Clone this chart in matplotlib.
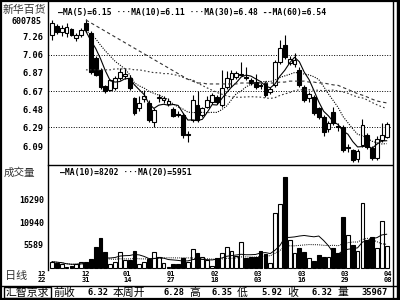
import numpy as np
import pandas as pd
import matplotlib
matplotlib.use("Agg")
import matplotlib.pyplot as plt
from matplotlib.patches import Rectangle
from matplotlib.lines import Line2D
import matplotlib.transforms as mtrans

# ---------------- data ----------------
opens = [7.27, 7.37, 7.30, 7.29, 7.33, 7.24, 7.27, 7.40, 7.29, 7.03,
         6.90, 6.73, 6.69, 6.71, 6.81, 6.83, 6.81, 6.60, 6.49, 6.59,
         6.55, 6.35, 6.60, 6.58, 6.54, 6.48, 6.43, 6.42, 6.21, 6.37,
         6.53, 6.42, 6.51, 6.56, 6.61, 6.53, 6.72, 6.80, 6.82, 6.85,
         6.82, 6.79, 6.77, 6.74, 6.76, 6.66, 6.74, 6.98, 7.16, 6.97,
         6.96, 6.90, 6.72, 6.60, 6.61, 6.49, 6.40, 6.27, 6.45, 6.30,
         6.29, 6.07, 6.05, 5.95, 6.10, 6.21, 6.07, 5.96, 6.15, 6.19]
highs = [7.43, 7.39, 7.38, 7.40, 7.34, 7.29, 7.34, 7.44, 7.31, 7.05,
         6.92, 6.74, 6.80, 6.83, 6.92, 6.92, 6.84, 6.61, 6.62, 6.69,
         6.58, 6.49, 6.64, 6.62, 6.60, 6.50, 6.46, 6.44, 6.25, 6.63,
         6.67, 6.51, 6.62, 6.65, 6.63, 6.90, 6.89, 6.90, 6.89, 6.98,
         6.93, 6.81, 6.86, 6.76, 6.78, 6.72, 7.00, 7.22, 7.27, 7.05,
         7.08, 6.93, 6.74, 6.66, 6.63, 6.51, 6.42, 6.36, 6.50, 6.33,
         6.31, 6.11, 6.06, 6.06, 6.38, 6.23, 6.09, 6.20, 6.34, 6.35]
lows = [7.22, 7.28, 7.26, 7.25, 7.26, 7.21, 7.25, 7.30, 6.86, 6.83,
        6.70, 6.65, 6.67, 6.69, 6.79, 6.80, 6.69, 6.42, 6.46, 6.56,
        6.35, 6.29, 6.56, 6.55, 6.52, 6.40, 6.40, 6.18, 6.13, 6.35,
        6.35, 6.40, 6.49, 6.54, 6.54, 6.50, 6.70, 6.72, 6.80, 6.83,
        6.79, 6.74, 6.70, 6.70, 6.61, 6.64, 6.72, 6.96, 7.02, 6.95,
        6.93, 6.72, 6.56, 6.56, 6.42, 6.38, 6.20, 6.24, 6.31, 6.25,
        6.03, 6.03, 5.92, 5.92, 6.08, 6.06, 5.94, 5.94, 6.13, 6.17]
closes = [7.40, 7.30, 7.34, 7.36, 7.27, 7.27, 7.32, 7.32, 6.88, 6.85,
          6.72, 6.68, 6.79, 6.81, 6.88, 6.86, 6.71, 6.44, 6.55, 6.62,
          6.37, 6.47, 6.61, 6.60, 6.57, 6.41, 6.42, 6.21, 6.22, 6.58,
          6.37, 6.49, 6.58, 6.63, 6.56, 6.71, 6.81, 6.87, 6.87, 6.86,
          6.81, 6.76, 6.72, 6.73, 6.63, 6.70, 6.98, 7.13, 7.04, 7.02,
          7.00, 6.74, 6.58, 6.64, 6.44, 6.40, 6.24, 6.33, 6.33, 6.29,
          6.05, 6.08, 5.94, 6.04, 6.31, 6.08, 5.96, 6.16, 6.21, 6.32]
volumes = [1620, 1380, 1140, 360, 530, 1070, 1620, 1620, 2260, 5180,
           7250, 4000, 1070, 1620, 3850, 2020, 2020, 4160, 1070, 1620,
           2180, 3850, 2700, 1200, 430, 1070, 1000, 2500, 1600, 4640,
           3690, 2730, 2020, 600, 2500, 3690, 5110, 4160, 2970, 6370,
           2570, 2800, 2660, 4160, 3370, 1380, 13200, 15340, 21760, 6780,
           3680, 4870, 4000, 2500, 1860, 3210, 2660, 2660, 4870, 3690,
           12320, 7970, 5590, 4240, 15570, 6780, 7490, 4870, 11300, 5350]

# MA30 / MA60 before the window has enough history
ma30_early = [6.90, 6.90, 6.90, 6.90, 6.90, 6.90, 6.91, 6.91, 6.91, 6.91, 6.90,
              6.90, 6.89, 6.88, 6.87, 6.87, 6.86, 6.86, 6.85, 6.84, 6.82, 6.80]
ma60_early = [7.43, 7.40, 7.37, 7.34, 7.31, 7.28, 7.25, 7.22, 7.19, 7.16, 7.13,
              7.10, 7.07, 7.04, 7.01, 6.98, 6.95, 6.92, 6.89, 6.86, 6.83, 6.80,
              6.78, 6.76, 6.76, 6.75, 6.75, 6.75, 6.75, 6.75, 6.75, 6.75, 6.76,
              6.76, 6.76, 6.76, 6.76, 6.76, 6.76, 6.76, 6.77, 6.77, 6.78, 6.78,
              6.78, 6.78, 6.77, 6.77, 6.76, 6.76, 6.75, 6.74]

price_ticks = [7.26, 7.06, 6.87, 6.67, 6.48, 6.29, 6.09]
price_tick_labels = ["7.26", "7.06", "6.87", "6.67", "6.48", "6.29", "6.09"]
grid_levels = [7.06, 6.67, 6.29]
vol_ticks = [16290, 10940, 5589]
vol_tick_labels = ["16290", "10940", "5589"]
date_pos = [-2.1, 7.0, 15.5, 24.5, 33.6, 42.5, 51.5, 60.4, 69.3]
date_months = ["12", "12", "01", "01", "02", "03", "03", "03", "04"]
date_days = ["22", "31", "14", "27", "18", "03", "16", "29", "08"]

price_legend = "—MA(5)=6.15 ···MA(10)=6.11 ···MA(30)=6.48 --MA(60)=6.54"
vol_legend = "—MA(10)=8202 ···MA(20)=5951"
info_labels = ["前收", "本周开", "高", "低", "收", "量"]
info_values = ["6.32", "6.28", "6.35", "5.92", "6.32", "35967"]

# ---------------- figure ----------------
W, H = 400, 300
fig = plt.figure(figsize=(4, 3), dpi=100)
fig.patch.set_facecolor("white")

def fx(px):
    return px / W

def fy(py):
    return 1 - py / H

MONO = "DejaVu Sans Mono"
CJK = ["Noto Sans CJK SC", "DejaVu Sans"]

L, R = 48, 392
ax_p = fig.add_axes([fx(L), fy(165), (R - L) / W, (165 - 3) / H])
ax_v = fig.add_axes([fx(L), fy(270), (R - L) / W, (270 - 165) / H])

n = len(closes)
idx = np.arange(n)
o = np.array(opens); h = np.array(highs); lo = np.array(lows); c = np.array(closes)
v = np.array(volumes)

for ax in (ax_p, ax_v):
    for s in ax.spines.values():
        s.set_visible(False)
    ax.set_xlim(-0.83, 70.1)
    ax.set_facecolor("white")

ax_p.set_ylim(5.888, 7.611)
ax_v.set_ylim(-357, 24612)

# grid
for g in grid_levels:
    ax_p.axhline(g, color="black", lw=0.7, ls=(0, (1, 1.6)), zorder=1)

# candles
bw = 0.78
for i in idx:
    up = c[i] >= o[i]
    ax_p.plot([i, i], [lo[i], h[i]], color="black", lw=0.8, zorder=2,
              solid_capstyle="butt")
    bottom = min(o[i], c[i])
    height = max(abs(c[i] - o[i]), 0.006)
    ax_p.add_patch(Rectangle((i - bw / 2, bottom), bw, height,
                             facecolor="white" if up else "black",
                             edgecolor="black", lw=0.8, zorder=3))

# moving averages
cs = pd.Series(c)
ma5 = cs.rolling(5, min_periods=1).mean().to_numpy()
ma10 = cs.rolling(10, min_periods=1).mean().to_numpy()
ma30 = cs.rolling(30).mean().to_numpy()
ma30[7:7 + len(ma30_early)] = ma30_early
ma60 = cs.rolling(60).mean().to_numpy()
ma60[7:7 + len(ma60_early)] = ma60_early
st = 7
ax_p.plot(idx[st:], ma5[st:], color="black", lw=0.8, zorder=4)
ax_p.plot(idx[st:], ma10[st:], color="black", lw=0.8, ls=(0, (1, 1.2)), zorder=4)
ax_p.plot(idx[st:], ma30[st:], color="#333333", lw=0.8, ls=(0, (1.5, 2)), zorder=4)
ax_p.plot(idx[st:], ma60[st:], color="#333333", lw=0.8, ls=(0, (3, 2.5)), zorder=4)

# volume bars
vs = pd.Series(v)
for i in idx:
    up = c[i] >= o[i]
    ax_v.add_patch(Rectangle((i - bw / 2, 0), bw, v[i],
                             facecolor="white" if up else "black",
                             edgecolor="black", lw=0.8, zorder=3))
vma10 = vs.rolling(10, min_periods=1).mean().to_numpy()
vma20 = vs.rolling(20, min_periods=1).mean().to_numpy()
ax_v.plot(idx, vma10, color="black", lw=0.7, zorder=4)
ax_v.plot(idx, vma20, color="black", lw=0.7, ls=(0, (1, 1.2)), zorder=4)

# ticks
ax_p.set_xticks([])
ax_v.set_xticks([])
ax_p.set_yticks(price_ticks)
ax_p.set_yticklabels(price_tick_labels, fontfamily=MONO, fontweight="bold", fontsize=6.2)
ax_v.set_yticks(vol_ticks)
ax_v.set_yticklabels(vol_tick_labels, fontfamily=MONO, fontweight="bold", fontsize=6.0)
for ax in (ax_p, ax_v):
    ax.tick_params(axis="y", length=0, pad=3)

# date labels
tr = mtrans.blended_transform_factory(ax_v.transData, fig.transFigure)
for p, m, d in zip(date_pos, date_months, date_days):
    fig.text(p, fy(273.5), m, transform=tr, ha="center", va="center",
             fontfamily=MONO, fontweight="bold", fontsize=5.0)
    fig.text(p, fy(280.5), d, transform=tr, ha="center", va="center",
             fontfamily=MONO, fontweight="bold", fontsize=5.0)

# frame lines
def hline(y, x0, x1, lw=1.0):
    fig.add_artist(Line2D([fx(x0), fx(x1)], [fy(y), fy(y)], color="black", lw=lw))

def vline(x, y0, y1, lw=1.0):
    fig.add_artist(Line2D([fx(x), fx(x)], [fy(y0), fy(y1)], color="black", lw=lw))

hline(0.8, 0, 400, 1.6)
hline(299.2, 0, 400, 1.6)
vline(0.8, 0, 300, 1.6)
vline(399.2, 0, 300, 1.6)
vline(392.5, 0, 300, 1.0)
vline(396.5, 0, 300, 1.0)
vline(L, 2, 270, 1.0)
hline(165, L, R, 1.0)
hline(285.5, 0, 400, 1.0)
fig.add_artist(Rectangle((fx(4), fy(298)), fx(47), 11 / H, transform=fig.transFigure,
                         fill=False, edgecolor="black", lw=1.0))

# texts
fig.text(fx(3), fy(10), "新华百货", family=CJK, fontsize=7.8, color="#333333",
         ha="left", va="center")
fig.text(fx(42), fy(21.5), "600785", family=MONO, fontweight="bold", fontsize=6.0,
         ha="right", va="center")
fig.text(fx(58), fy(13), price_legend, family=MONO, fontweight="bold", fontsize=5.8,
         ha="left", va="center")
fig.text(fx(4), fy(173), "成交量", family=CJK, fontsize=7.6, color="#333333",
         ha="left", va="center")
fig.text(fx(60), fy(172), vol_legend, family=MONO, fontweight="bold", fontsize=5.8,
         ha="left", va="center")
fig.text(fx(5), fy(276), "日线", family=CJK, fontsize=8.0, color="#333333",
         ha="left", va="center")

fig.text(fx(6), fy(292.5), "汇智京求", family=CJK, fontsize=7.8, ha="left", va="center")
label_x = [53, 113, 189, 237, 287, 337]
value_x = [108, 185, 233, 282, 332, 388]
for lx, lab in zip(label_x, info_labels):
    fig.text(fx(lx), fy(292.5), lab, family=CJK, fontsize=7.8, ha="left", va="center")
for vx, val in zip(value_x, info_values):
    fig.text(fx(vx), fy(292.5), val, family=MONO, fontweight="bold", fontsize=6.3,
             ha="right", va="center")

fig.savefig("out.png", dpi=100, facecolor="white")
